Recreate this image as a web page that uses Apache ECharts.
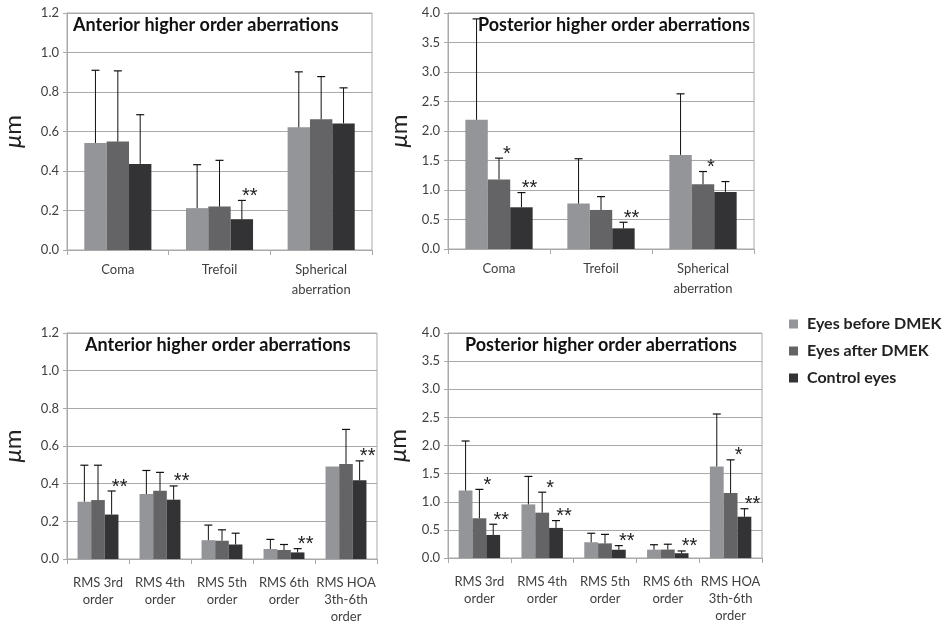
<!DOCTYPE html>
<html>
<head>
<meta charset="utf-8">
<script src="https://cdn.jsdelivr.net/npm/echarts@6/dist/echarts.min.js"></script>
<style>html,body{margin:0;padding:0;background:#fff;}#c{width:945px;height:625px;}</style>
</head>
<body>
<div id="c"></div>
<script>
// ---- categories ----
var catTop = ['Coma', 'Trefoil', 'Spherical\naberration'];
var catBottom = ['RMS 3rd\norder', 'RMS 4th\norder', 'RMS 5th\norder', 'RMS 6th\norder', 'RMS HOA\n3th-6th\norder'];
var seriesNames = ['Eyes before DMEK', 'Eyes after DMEK', 'Control eyes'];

// ---- Panel 1: anterior (Coma, Trefoil, Spherical) ----
var antBefore = [0.542, 0.212, 0.621];
var antBeforeErr = [0.910, 0.432, 0.902];
var antAfter = [0.549, 0.220, 0.662];
var antAfterErr = [0.907, 0.454, 0.878];
var antControl = [0.436, 0.156, 0.641];
var antControlErr = [0.685, 0.251, 0.821];
var antSigBefore = ['', '', ''];
var antSigAfter = ['', '', ''];
var antSigControl = ['', '**', ''];

// ---- Panel 2: posterior (Coma, Trefoil, Spherical) ----
var postBefore = [2.19, 0.77, 1.595];
var postBeforeErr = [3.90, 1.53, 2.63];
var postAfter = [1.18, 0.662, 1.098];
var postAfterErr = [1.54, 0.888, 1.313];
var postControl = [0.707, 0.35, 0.967];
var postControlErr = [0.956, 0.453, 1.143];
var postSigBefore = ['', '', ''];
var postSigAfter = ['*', '', '*'];
var postSigControl = ['**', '**', ''];

// ---- Panel 3: anterior RMS ----
var rmsAntBefore = [0.304, 0.345, 0.100, 0.053, 0.491];
var rmsAntBeforeErr = [0.498, 0.470, 0.180, 0.104, null];
var rmsAntAfter = [0.313, 0.362, 0.097, 0.048, 0.505];
var rmsAntAfterErr = [0.498, 0.460, 0.155, 0.077, 0.688];
var rmsAntControl = [0.236, 0.315, 0.077, 0.035, 0.418];
var rmsAntControlErr = [0.361, 0.388, 0.137, 0.055, 0.521];
var rmsAntSigBefore = ['', '', '', '', ''];
var rmsAntSigAfter = ['', '', '', '', ''];
var rmsAntSigControl = ['**', '**', '', '**', '**'];

// ---- Panel 4: posterior RMS ----
var rmsPostBefore = [1.20, 0.953, 0.28, 0.148, 1.627];
var rmsPostBeforeErr = [2.08, 1.45, 0.44, 0.236, 2.56];
var rmsPostAfter = [0.706, 0.806, 0.26, 0.150, 1.154];
var rmsPostAfterErr = [1.22, 1.17, 0.42, 0.245, 1.745];
var rmsPostControl = [0.41, 0.535, 0.147, 0.085, 0.734];
var rmsPostControlErr = [0.60, 0.665, 0.22, 0.125, 0.876];
var rmsPostSigBefore = ['', '', '', '', ''];
var rmsPostSigAfter = ['*', '*', '', '', '*'];
var rmsPostSigControl = ['**', '**', '**', '**', '**'];

// ---- titles / axis ticks ----
var panelTitles = ['Anterior higher order aberrations', 'Posterior higher order aberrations',
                   'Anterior higher order aberrations', 'Posterior higher order aberrations'];
var yMaxAnt = 1.2, yStepAnt = 0.2;
var yMaxPost = 4.0, yStepPost = 0.5;

var colors = ['#939598', '#646466', '#333335'];
var FONT = 'Lato';
var GRIDC = '#a9a9a9';
var CAT_GAP = 0.34;

var panels = [
  {cats: catTop, vals: [antBefore, antAfter, antControl], errs: [antBeforeErr, antAfterErr, antControlErr],
   sigs: [antSigBefore, antSigAfter, antSigControl], max: yMaxAnt, step: yStepAnt,
   grid: {left: 62, top: 13, width: 310, height: 237}, nameGap: 42, lh: 20, margin: 10},
  {cats: catTop, vals: [postBefore, postAfter, postControl], errs: [postBeforeErr, postAfterErr, postControlErr],
   sigs: [postSigBefore, postSigAfter, postSigControl], max: yMaxPost, step: yStepPost,
   grid: {left: 448, top: 13, width: 306, height: 236}, nameGap: 37, lh: 20, margin: 10},
  {cats: catBottom, vals: [rmsAntBefore, rmsAntAfter, rmsAntControl], errs: [rmsAntBeforeErr, rmsAntAfterErr, rmsAntControlErr],
   sigs: [rmsAntSigBefore, rmsAntSigAfter, rmsAntSigControl], max: yMaxAnt, step: yStepAnt,
   grid: {left: 63, top: 333, width: 314, height: 227}, nameGap: 42, lh: 17, margin: 15},
  {cats: catBottom, vals: [rmsPostBefore, rmsPostAfter, rmsPostControl], errs: [rmsPostBeforeErr, rmsPostAfterErr, rmsPostControlErr],
   sigs: [rmsPostSigBefore, rmsPostSigAfter, rmsPostSigControl], max: yMaxPost, step: yStepPost,
   grid: {left: 448, top: 333, width: 314, height: 225}, nameGap: 38, lh: 17, margin: 15}
];

var grids = [], xAxes = [], yAxes = [], series = [], titles = [];
var titlePos = [
  {left: 73, top: 16}, {left: 478, top: 16}, {left: 85, top: 336}, {left: 465, top: 336}
];

panels.forEach(function (p, pi) {
  grids.push(Object.assign({show: true, borderColor: GRIDC, borderWidth: 1, containLabel: false}, p.grid));
  xAxes.push({
    type: 'category', gridIndex: pi, data: p.cats,
    axisLine: {lineStyle: {color: GRIDC}},
    axisTick: {show: true, length: 5, lineStyle: {color: GRIDC}},
    axisLabel: {fontFamily: FONT, fontSize: 13, color: '#404040', lineHeight: p.lh, margin: p.margin, interval: 0},
    splitLine: {show: false}
  });
  yAxes.push({
    type: 'value', gridIndex: pi, min: 0, max: p.max, interval: p.step,
    name: '{i|μ}m', nameLocation: 'middle', nameGap: p.nameGap, nameRotate: 90,
    nameTextStyle: {fontFamily: FONT, fontSize: 24, color: '#222',
      rich: {i: {fontFamily: FONT, fontSize: 24, fontStyle: 'italic', color: '#222'}}},
    axisLine: {show: true, lineStyle: {color: GRIDC}},
    axisTick: {show: true, length: 4, lineStyle: {color: GRIDC}},
    axisLabel: {fontFamily: FONT, fontSize: 13, color: '#404040', margin: 8,
      formatter: function (v) { return v.toFixed(1); }},
    splitLine: {show: true, lineStyle: {color: GRIDC, width: 1}}
  });
  titles.push({text: panelTitles[pi], left: titlePos[pi].left, top: titlePos[pi].top, padding: 0,
    textStyle: {fontFamily: FONT, fontWeight: 'bold', fontSize: 18, color: '#111'}});

  for (var k = 0; k < 3; k++) {
    series.push({
      name: seriesNames[k], type: 'bar', xAxisIndex: pi, yAxisIndex: pi,
      data: p.vals[k], barGap: '0%', barCategoryGap: (CAT_GAP * 100) + '%',
      itemStyle: {color: colors[k]}, silent: true, z: 2
    });
  }
  for (var k2 = 0; k2 < 3; k2++) {
    (function (k, p) {
      var data = p.vals[k].map(function (v, i) {
        var e = p.errs[k][i];
        return [i, v, e == null ? v : e];
      });
      series.push({
        type: 'custom', xAxisIndex: pi, yAxisIndex: pi, silent: true, z: 5,
        data: data, encode: {x: 0, y: [1, 2]},
        renderItem: function (params, api) {
          var i = params.dataIndex;
          var cat = api.value(0), mean = api.value(1), top = api.value(2);
          var band = api.size([1, 0])[0];
          var bw = band * (1 - CAT_GAP) / 3;
          var pm = api.coord([cat, mean]);
          var pt = api.coord([cat, top]);
          var x = pm[0] + (k - 1) * bw;
          var children = [];
          if (p.errs[k][i] != null) {
            children.push({type: 'line', shape: {x1: x, y1: pm[1], x2: x, y2: pt[1]},
              style: {stroke: '#111', lineWidth: 1}});
            children.push({type: 'line', shape: {x1: x - 4, y1: pt[1], x2: x + 4, y2: pt[1]},
              style: {stroke: '#111', lineWidth: 1.2}});
          }
          var s = p.sigs[k][i];
          if (s) {
            children.push({type: 'text', x: x + 8, y: pt[1] - 4,
              style: {text: s, fontFamily: 'Liberation Sans', fontSize: 20, fill: '#222',
                textAlign: 'center', textVerticalAlign: 'middle'}});
          }
          return {type: 'group', children: children};
        }
      });
    })(k2, p);
  }
});

var chart = echarts.init(document.getElementById('c'), null, {renderer: 'canvas'});
chart.setOption({
  animation: false,
  backgroundColor: '#fff',
  title: titles,
  grid: grids,
  xAxis: xAxes,
  yAxis: yAxes,
  legend: {
    data: seriesNames, orient: 'vertical', left: 784, top: 311,
    itemWidth: 9, itemHeight: 9, itemGap: 11, icon: 'rect',
    textStyle: {fontFamily: FONT, fontWeight: 'bold', fontSize: 16, color: '#222', padding: [0, 0, 0, 4]},
    selectedMode: false
  },
  series: series
});
</script>
</body>
</html>
